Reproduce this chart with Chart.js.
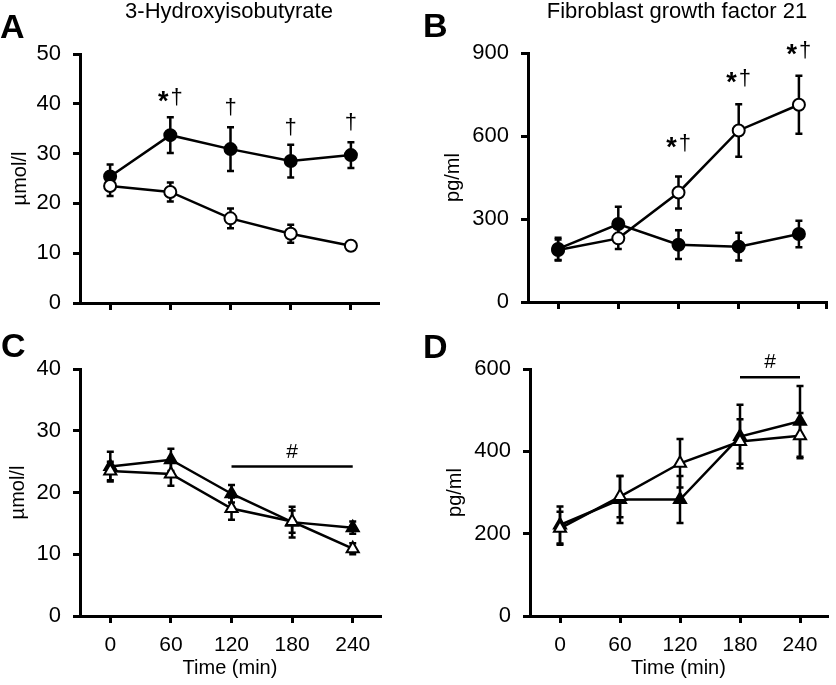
<!DOCTYPE html>
<html>
<head>
<meta charset="utf-8">
<script src="https://cdn.jsdelivr.net/npm/chart.js@4.4.1/dist/chart.umd.min.js"></script>
<style>
  body { margin: 0; background: #fff; }
  #wrap { position: relative; width: 836px; height: 685px; }
  canvas { position: absolute; }
</style>
</head>
<body>
<div id="wrap">
  <canvas id="chartA" width="418" height="330" style="left:0;top:0"></canvas>
  <canvas id="chartB" width="418" height="330" style="left:418px;top:0"></canvas>
  <canvas id="chartC" width="418" height="355" style="left:0;top:330px"></canvas>
  <canvas id="chartD" width="418" height="355" style="left:418px;top:330px"></canvas>
</div>
<script>
var timePoints = [0, 60, 120, 180, 240];

// A - 3-hydroxyisobutyrate (µmol/l), filled vs open circles
var hibaFilled = [25.4, 33.7, 30.9, 28.5, 29.7];
var hibaFilledErr = [2.4, 3.6, 4.4, 3.3, 2.6];
var hibaOpen = [23.5, 22.3, 17.0, 13.9, 11.5];
var hibaOpenErr = [2.0, 1.9, 2.0, 1.8, 0.8];
var hibaTicks = [0, 10, 20, 30, 40, 50];
var hibaNoteTimes = [60, 120, 180, 240];
var hibaNoteLevels = [41.2, 39.1, 35.1, 36.1];
var hibaNoteStars = [true, false, false, false];

// B - FGF21 (pg/ml)
var fgfFilled = [192, 282, 207, 200, 246];
var fgfFilledErr = [40, 62, 52, 50, 48];
var fgfOpen = [188, 230, 396, 620, 713];
var fgfOpenErr = [38, 38, 58, 95, 105];
var fgfTicks = [0, 300, 600, 900];
var fgfNoteTimes = [120, 180, 240];
var fgfNoteLevels = [571, 806, 909];
var fgfNoteStars = [true, true, true];

// C - 3-HIB, triangles
var hibTriFilled = [24.2, 25.3, 19.8, 15.2, 14.3];
var hibTriFilledErr = [2.4, 1.8, 1.4, 2.5, 1.0];
var hibTriOpen = [23.5, 23.0, 17.4, 15.3, 10.9];
var hibTriOpenErr = [1.5, 1.9, 1.8, 1.8, 0.9];
var hibTriTicks = [0, 10, 20, 30, 40];
var hibTriHash = [120, 240, 24.2];

// D - FGF21, triangles
var fgfTriFilled = [221, 283, 283, 436, 473];
var fgfTriFilledErr = [45, 57, 57, 77, 86];
var fgfTriOpen = [213, 290, 371, 424, 438];
var fgfTriOpenErr = [40, 50, 59, 54, 55];
var fgfTriTicks = [0, 200, 400, 600];
var fgfTriHash = [180, 240, 580];

var FONT = '"Liberation Sans", Arial, sans-serif';
Chart.defaults.font.family = FONT;
Chart.defaults.color = '#000';

function pts(vals) {
  return timePoints.map(function (t, i) { return { x: t, y: vals[i] }; });
}

function series(vals, errs, open, style) {
  return {
    data: pts(vals),
    errors: errs,
    borderColor: '#000',
    borderWidth: 2.5,
    pointStyle: style,
    pointRadius: style === 'triangle' ? 7 : 6,
    pointBorderWidth: 2,
    pointBorderColor: '#000',
    pointBackgroundColor: open ? '#fff' : '#000',
    tension: 0,
    clip: false
  };
}

function makePanel(id, p) {
  var xTickVals = p.showX ? timePoints : timePoints.concat(p.endTick ? [267] : []);
  var decor = {
    id: 'decor' + id,
    beforeDatasetsDraw: function (chart) {
      var ctx = chart.ctx, ys = chart.scales.y;
      ctx.save();
      ctx.strokeStyle = '#000';
      ctx.lineWidth = 2.5;
      chart.data.datasets.forEach(function (ds, di) {
        var meta = chart.getDatasetMeta(di);
        meta.data.forEach(function (el, i) {
          var v = ds.data[i].y, e = ds.errors[i];
          var top = ys.getPixelForValue(v + e), bot = ys.getPixelForValue(v - e);
          ctx.beginPath();
          ctx.moveTo(el.x, top); ctx.lineTo(el.x, bot);
          ctx.moveTo(el.x - 3.5, top); ctx.lineTo(el.x + 3.5, top);
          ctx.moveTo(el.x - 3.5, bot); ctx.lineTo(el.x + 3.5, bot);
          ctx.stroke();
        });
      });
      ctx.restore();
    },
    afterDraw: function (chart) {
      var ctx = chart.ctx, xs = chart.scales.x, ys = chart.scales.y, a = chart.chartArea;
      ctx.save();
      ctx.fillStyle = '#000';
      ctx.strokeStyle = '#000';
      ctx.textAlign = 'left';
      ctx.textBaseline = 'alphabetic';
      ctx.font = 'bold 34px ' + FONT;
      ctx.fillText(p.letter, p.letterX, p.letterY);
      if (p.title) {
        ctx.font = '22px ' + FONT;
        ctx.textAlign = 'center';
        ctx.fillText(p.title, (a.left + a.right) / 2, 18);
      }
      (p.noteTimes || []).forEach(function (t, i) {
        var cx = xs.getPixelForValue(t), cy = ys.getPixelForValue(p.noteLevels[i]);
        ctx.textBaseline = 'middle';
        ctx.font = '22px ' + FONT;
        var dw = ctx.measureText('†').width;
        if (p.noteStars[i]) {
          ctx.font = 'bold 27px ' + FONT;
          var sw = ctx.measureText('*').width;
          var x0 = cx - (sw + 2 + dw) / 2;
          ctx.textAlign = 'left';
          ctx.fillText('*', x0, cy + 5);
          ctx.font = '22px ' + FONT;
          ctx.fillText('†', x0 + sw + 2, cy);
        } else {
          ctx.textAlign = 'center';
          ctx.fillText('†', cx, cy);
        }
      });
      if (p.hash) {
        var hy = ys.getPixelForValue(p.hash[2]);
        var hx0 = xs.getPixelForValue(p.hash[0]), hx1 = xs.getPixelForValue(p.hash[1]);
        ctx.lineWidth = 2.5;
        ctx.beginPath();
        ctx.moveTo(hx0, hy); ctx.lineTo(hx1, hy);
        ctx.stroke();
        ctx.font = '21px ' + FONT;
        ctx.textAlign = 'center';
        ctx.textBaseline = 'alphabetic';
        ctx.fillText('#', (hx0 + hx1) / 2, hy - 9);
      }
      ctx.restore();
    }
  };

  var axisGrid = { drawOnChartArea: false, drawTicks: true, tickLength: 7, lineWidth: 3, color: '#000' };
  var axisBorder = { display: true, width: 3, color: '#000' };

  return new Chart(document.getElementById(id), {
    type: 'line',
    data: { datasets: p.datasets },
    options: {
      responsive: false,
      animation: false,
      events: [],
      layout: { padding: { left: 0, top: p.top, right: p.right, bottom: 0 } },
      plugins: { legend: { display: false }, tooltip: { enabled: false } },
      scales: {
        x: {
          type: 'linear',
          min: -30,
          max: 267,
          afterBuildTicks: function (ax) { ax.ticks = xTickVals.map(function (v) { return { value: v }; }); },
          afterFit: function (ax) { ax.height = p.xHeight; },
          grid: axisGrid,
          border: axisBorder,
          ticks: {
            padding: 10,
            font: { size: 21 },
            color: '#000',
            maxRotation: 0,
            autoSkip: false,
            callback: function (v) { return p.showX && timePoints.indexOf(v) >= 0 ? String(v) : ''; }
          },
          title: { display: p.showX, text: 'Time (min)', font: { size: 20 }, color: '#000', padding: { top: 0, bottom: 5 } }
        },
        y: {
          min: p.yTicks[0],
          max: p.yTicks[p.yTicks.length - 1],
          afterBuildTicks: function (ax) { ax.ticks = p.yTicks.map(function (v) { return { value: v }; }); },
          afterFit: function (ax) { ax.width = p.yWidth; },
          grid: axisGrid,
          border: axisBorder,
          ticks: { padding: 12, font: { size: 22 }, color: '#000' },
          title: { display: true, text: p.unit, font: { size: 20 }, color: '#000', padding: { top: p.unitPad } }
        }
      }
    },
    plugins: [decor]
  });
}

makePanel('chartA', {
  letter: 'A', letterX: 0, letterY: 38, title: '3-Hydroxyisobutyrate',
  top: 54, right: 40, yWidth: 80, xHeight: 27, showX: false,
  yTicks: hibaTicks, unit: 'µmol/l', unitPad: 8,
  noteTimes: hibaNoteTimes, noteLevels: hibaNoteLevels, noteStars: hibaNoteStars,
  datasets: [series(hibaOpen, hibaOpenErr, true, 'circle'), series(hibaFilled, hibaFilledErr, false, 'circle')]
});

makePanel('chartB', {
  letter: 'B', letterX: 5, letterY: 37, title: 'Fibroblast growth factor 21',
  top: 53, right: 6, yWidth: 110, xHeight: 28, showX: false, endTick: true,
  yTicks: fgfTicks, unit: 'pg/ml', unitPad: 23,
  noteTimes: fgfNoteTimes, noteLevels: fgfNoteLevels, noteStars: fgfNoteStars,
  datasets: [series(fgfFilled, fgfFilledErr, false, 'circle'), series(fgfOpen, fgfOpenErr, true, 'circle')]
});

makePanel('chartC', {
  letter: 'C', letterX: 1, letterY: 27,
  top: 39, right: 38, yWidth: 80, xHeight: 69, showX: true,
  yTicks: hibTriTicks, unit: 'µmol/l', unitPad: 6, hash: hibTriHash,
  datasets: [series(hibTriOpen, hibTriOpenErr, true, 'triangle'), series(hibTriFilled, hibTriFilledErr, false, 'triangle')]
});

makePanel('chartD', {
  letter: 'D', letterX: 5, letterY: 28,
  top: 39, right: 4, yWidth: 112, xHeight: 69, showX: true,
  yTicks: fgfTriTicks, unit: 'pg/ml', unitPad: 25, hash: fgfTriHash,
  datasets: [series(fgfTriOpen, fgfTriOpenErr, true, 'triangle'), series(fgfTriFilled, fgfTriFilledErr, false, 'triangle')]
});
</script>
</body>
</html>
